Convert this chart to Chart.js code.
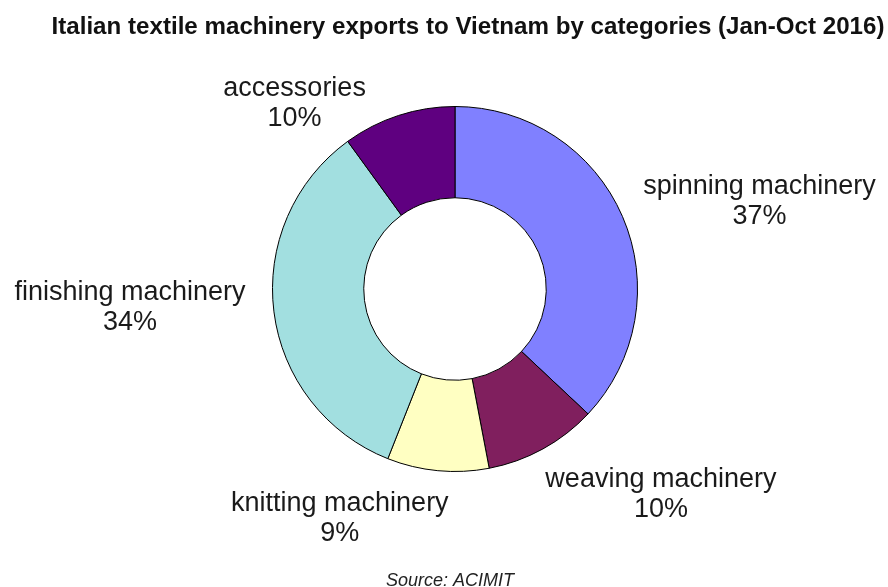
<!DOCTYPE html>
<html>
<head>
<meta charset="utf-8">
<script src="https://cdn.jsdelivr.net/npm/chart.js@4.4.1/dist/chart.umd.min.js"></script>
<style>
  html, body { margin: 0; padding: 0; background: #fff; }
  #wrap { width: 888px; height: 587px; position: relative; }
</style>
</head>
<body>
<div id="wrap"><canvas id="myChart"></canvas></div>
<script>
const categories = ['spinning machinery', 'weaving machinery', 'knitting machinery', 'finishing machinery', 'accessories'];
const shares = [37, 10, 9, 34, 10];
const colors = ['#8080ff', '#801f5e', '#ffffc2', '#a2dfe0', '#5f0080'];

const titleText = 'Italian textile machinery exports to Vietnam by categories (Jan-Oct 2016)';
const sourceText = 'Source: ACIMIT';

// where each label sits, relative to the middle of its arc's outer edge
const labelOffsets = [[137, -15], [118, 46], [-98, 48], [-144, -4], [-104, -12]];

const ctx = document.getElementById('myChart');

const chart_texts = {
    id: 'chart_texts',
    afterDatasetsDraw: (chart) => {
        const c = chart.ctx;
        const meta = chart.getDatasetMeta(0);
        c.save();
        c.fillStyle = '#1a1a1a';
        c.textAlign = 'center';
        c.textBaseline = 'middle';
        c.font = '27px "Liberation Sans", Arial, sans-serif';
        meta.data.forEach((arc, i) => {
            const mid = (arc.startAngle + arc.endAngle) / 2;
            const px = arc.x + Math.cos(mid) * arc.outerRadius + labelOffsets[i][0];
            const py = arc.y + Math.sin(mid) * arc.outerRadius + labelOffsets[i][1];
            c.fillText(categories[i], px, py - 15);
            c.fillText(shares[i] + '%', px, py + 15);
        });

        // title in a narrow bold face, fitted to the original width
        c.fillStyle = '#111';
        c.font = 'bold 24px "Liberation Sans Narrow", "Arial Narrow", "Liberation Sans", sans-serif';
        const w = c.measureText(titleText).width;
        c.save();
        c.translate(468, 27);
        c.scale(833 / w, 1);
        c.fillText(titleText, 0, 0);
        c.restore();

        c.fillStyle = '#222';
        c.font = 'italic 18px "Liberation Sans", Arial, sans-serif';
        c.textBaseline = 'alphabetic';
        c.fillText(sourceText, 450, 586);
        c.restore();
    }
};

new Chart(ctx, {
    type: 'doughnut',
    data: {
        labels: categories,
        datasets: [
            {
                data: shares,
                backgroundColor: colors,
                borderColor: '#000',
                borderWidth: 1
            }
        ]
    },
    options: {
        maintainAspectRatio: false,
        responsive: true,
        animation: false,
        cutout: '50%',
        layout: {
            padding: { left: 272, right: 250, top: 106, bottom: 115 }
        },
        plugins: {
            legend: { display: false },
            tooltip: { enabled: false },
            title: { display: false }
        }
    },
    plugins: [chart_texts]
});
</script>
</body>
</html>
